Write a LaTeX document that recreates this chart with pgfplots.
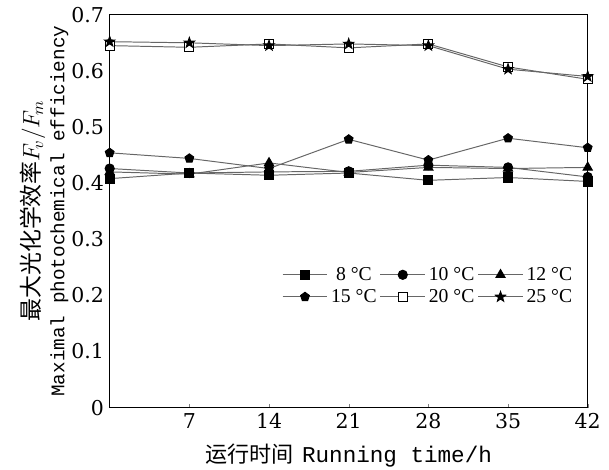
\documentclass[border=0pt]{standalone}
\usepackage{pgfplots}
\pgfplotsset{compat=1.18}
\usetikzlibrary{plotmarks}
\usepackage{fontspec}
\setmainfont{Liberation Serif}
\setmonofont{Liberation Mono}
\newfontfamily\cjk{Noto Sans CJK SC}
\newfontfamily\tickfont{DejaVu Serif}
\pgfdeclareplotmark{fstar}{%
  \pgfpathmoveto{\pgfqpointpolar{90}{1.25\pgfplotmarksize}}%
  \pgfpathlineto{\pgfqpointpolar{126}{0.5\pgfplotmarksize}}%
  \pgfpathlineto{\pgfqpointpolar{162}{1.25\pgfplotmarksize}}%
  \pgfpathlineto{\pgfqpointpolar{198}{0.5\pgfplotmarksize}}%
  \pgfpathlineto{\pgfqpointpolar{234}{1.25\pgfplotmarksize}}%
  \pgfpathlineto{\pgfqpointpolar{270}{0.5\pgfplotmarksize}}%
  \pgfpathlineto{\pgfqpointpolar{306}{1.25\pgfplotmarksize}}%
  \pgfpathlineto{\pgfqpointpolar{342}{0.5\pgfplotmarksize}}%
  \pgfpathlineto{\pgfqpointpolar{18}{1.25\pgfplotmarksize}}%
  \pgfpathlineto{\pgfqpointpolar{54}{0.5\pgfplotmarksize}}%
  \pgfpathclose\pgfusepathqfillstroke}
\begin{document}
\begin{tikzpicture}
\useasboundingbox (-67pt,-38pt) rectangle (305pt,249pt);
\begin{axis}[
  scale only axis, width=292pt, height=240pt,
  xmin=0, xmax=42, ymin=0, ymax=0.7,
  xtick={7,14,21,28,35,42},
  ytick={0,0.1,0.2,0.3,0.4,0.5,0.6,0.7},
  yticklabels={0,0.1,0.2,0.3,0.4,0.5,0.6,0.7},
  xticklabels={7,14,21,28,35,42},
  tick align=inside, major tick length=2pt,
  ytick style={draw=none},
  xtick pos=bottom, ytick pos=left,
  axis line style={line width=0.9pt},
  ticklabel style={font=\tickfont\fontsize{12.5}{13}\selectfont},
  /pgf/number format/assume math mode=true,
  xlabel={{\cjk\fontsize{13.5}{15}\selectfont 运行时间}\ \ \texttt{\fontsize{13.8}{15}\selectfont Running time/h}},
  ylabel={{\cjk\fontsize{14}{15}\selectfont 最大光化学效率}{\fontsize{14}{15}\selectfont $F_{\!v}/F_{\!m}$}\\[2pt]\texttt{\fontsize{11.8}{13}\selectfont Maximal photochemical efficiency}},
  ylabel style={align=center, yshift=-5pt},
  xlabel style={yshift=-2pt},
  s/.style={draw=black!60, line width=0.6pt, mark size=2.8pt, mark options={solid, fill=black, draw=black}},
  legend style={draw=none, fill=none, at={(0.975,0.31)}, anchor=east, font=\fontsize{12}{13}\selectfont, column sep=0pt, row sep=0pt, inner xsep=0pt},
  legend columns=3,
  legend image code/.code={\draw[mark repeat=2,mark phase=2] plot coordinates {(0cm,0cm) (0.48cm,0cm) (0.96cm,0cm)};},
]
\addplot[s, mark=square*] coordinates {(0,0.408) (7,0.418) (14,0.414) (21,0.418) (28,0.405) (35,0.410) (42,0.403)};
\addlegendentry{8 °C}
\addplot[s, mark=*] coordinates {(0,0.426) (7,0.418) (14,0.420) (21,0.421) (28,0.432) (35,0.428) (42,0.411)};
\addlegendentry{10 °C}
\addplot[s, mark=triangle*, mark size=3.2pt] coordinates {(0,0.420) (7,0.416) (14,0.436) (21,0.419) (28,0.428) (35,0.426) (42,0.428)};
\addlegendentry{12 °C}
\addplot[s, mark=pentagon*] coordinates {(0,0.454) (7,0.444) (14,0.426) (21,0.478) (28,0.441) (35,0.480) (42,0.463)};
\addlegendentry{15 °C}
\addplot[s, mark=square*, mark options={solid, fill=white, draw=black, line width=0.6pt}] coordinates {(0,0.645) (7,0.642) (14,0.648) (21,0.641) (28,0.648) (35,0.607) (42,0.585)};
\addlegendentry{20 °C}
\addplot[s, mark=fstar, mark size=2.6pt] coordinates {(0,0.652) (7,0.650) (14,0.645) (21,0.648) (28,0.645) (35,0.603) (42,0.590)};
\addlegendentry{25 °C}
\end{axis}
\end{tikzpicture}
\end{document}
